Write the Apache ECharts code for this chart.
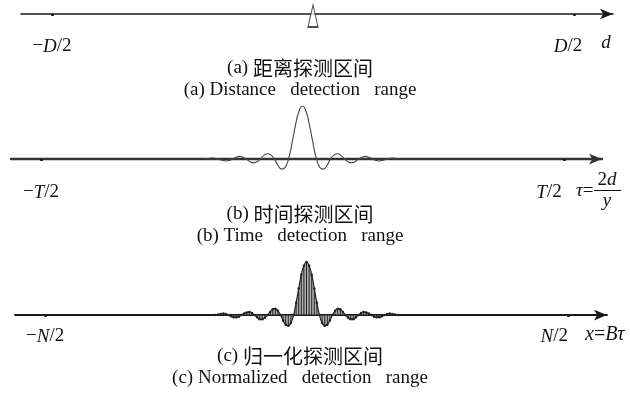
<!DOCTYPE html>
<html>
<head>
<meta charset="utf-8">
<script src="https://cdn.jsdelivr.net/npm/echarts@6/dist/echarts.min.js"></script>
<style>
  html, body { margin: 0; padding: 0; background: #fff; }
  #chart { width: 630px; height: 399px; }
</style>
</head>
<body>
<div id="chart"></div>
<script>
// (a) distance axis: ends of the detection window and the target position
const distanceTicks = [-1, 1];
const distanceTickLabels = ['−{i|D}/2', '{i|D}/2{g|}'];
const targetPosition = [0];

// (b) time axis: window ends (in main-lobe half widths) and the echo envelope
const timeTicks = [-18.68, 18.68];
const timeTickLabels = ['−{i|T}/2', '{i|T}/2{g|}'];
const timeOffsets = [
  -7, -6.75, -6.5, -6.25, -6, -5.75, -5.5, -5.25, -5, -4.75, -4.5, -4.25,
  -4, -3.75, -3.5, -3.25, -3, -2.75, -2.5, -2.25, -2, -1.75, -1.5, -1.25,
  -1, -0.75, -0.5, -0.25, 0, 0.25, 0.5, 0.75, 1, 1.25, 1.5, 1.75,
  2, 2.25, 2.5, 2.75, 3, 3.25, 3.5, 3.75, 4, 4.25, 4.5, 4.75,
  5, 5.25, 5.5, 5.75, 6, 6.25, 6.5, 6.75, 7
];
const timeEcho = [
  0, 0.01, 0.02, 0.015, 0, -0.02, -0.035, -0.025, 0, 0.035, 0.05, 0.035,
  0, -0.05, -0.07, -0.05, 0, 0.07, 0.10, 0.075, 0, -0.12, -0.19, -0.16,
  0, 0.30, 0.64, 0.90, 1.00, 0.90, 0.64, 0.30, 0, -0.16, -0.19, -0.12,
  0, 0.075, 0.10, 0.07, 0, -0.05, -0.07, -0.05, 0, 0.035, 0.05, 0.035,
  0, -0.025, -0.035, -0.02, 0, 0.015, 0.02, 0.01, 0
];

// (c) normalized axis: window ends and the sampled echo
const sampleTicks = [-20.1, 20.1];
const sampleTickLabels = ['−{i|N}/2', '{i|N}/2{g|}'];
const sampleOffsets = [
  -7, -6.8, -6.6, -6.4, -6.2, -6, -5.8, -5.6, -5.4, -5.2, -5, -4.8,
  -4.6, -4.4, -4.2, -4, -3.8, -3.6, -3.4, -3.2, -3, -2.8, -2.6, -2.4,
  -2.2, -2, -1.8, -1.6, -1.4, -1.2, -1, -0.8, -0.6, -0.4, -0.2, 0,
  0.2, 0.4, 0.6, 0.8, 1, 1.2, 1.4, 1.6, 1.8, 2, 2.2, 2.4,
  2.6, 2.8, 3, 3.2, 3.4, 3.6, 3.8, 4, 4.2, 4.4, 4.6, 4.8,
  5, 5.2, 5.4, 5.6, 5.8, 6, 6.2, 6.4, 6.6, 6.8, 7
];
const sampleEcho = [
  0, 0.01, 0.02, 0.03, 0.02, 0, -0.02, -0.04, -0.04, -0.03, 0, 0.03,
  0.05, 0.06, 0.04, 0, -0.04, -0.08, -0.08, -0.05, 0, 0.06, 0.11, 0.12,
  0.08, 0, -0.10, -0.18, -0.20, -0.15, 0, 0.23, 0.50, 0.76, 0.93, 1.00,
  0.93, 0.76, 0.50, 0.23, 0, -0.15, -0.20, -0.18, -0.10, 0, 0.08, 0.12,
  0.11, 0.06, 0, -0.05, -0.08, -0.08, -0.04, 0, 0.04, 0.06, 0.05, 0.03,
  0, -0.03, -0.04, -0.04, -0.02, 0, 0.02, 0.03, 0.02, 0.01, 0
];

const axisNames = ['d', 'x=Bτ'];
const captionsZh = ['距离探测区间', '时间探测区间', '归一化探测区间'];
const captionsEn = ['Distance   detection   range', 'Time   detection   range', 'Normalized   detection   range'];
const captionTags = ['(a)', '(b)', '(c)'];

const SERIF = '"Liberation Serif", "Times New Roman", serif';
const CJK = '"Noto Sans CJK SC", sans-serif';
const INK = '#111';

function pairs(xs, ys) {
  return xs.map((x, i) => [x, ys[i]]);
}

function xAxisFor(gridIndex, min, max, ticks, labels, gap, margin, lineWidth, lineColor) {
  return {
    type: 'value', gridIndex, min, max,
    axisLine: {
      onZero: true,
      symbol: ['none', 'arrow'],
      symbolSize: [8, 13],
      lineStyle: { color: lineColor, width: lineWidth }
    },
    axisTick: {
      customValues: ticks, length: 2, inside: false,
      lineStyle: { color: INK, width: 2.5 }
    },
    axisLabel: {
      customValues: ticks,
      margin,
      color: INK,
      fontFamily: SERIF,
      fontSize: 19,
      formatter: function (v) {
        let best = 0;
        ticks.forEach((t, i) => { if (Math.abs(t - v) < Math.abs(ticks[best] - v)) best = i; });
        return labels[best];
      },
      rich: {
        i: { fontFamily: SERIF, fontStyle: 'italic', fontSize: 19, color: INK },
        g: { width: gap }
      }
    },
    splitLine: { show: false }
  };
}

function yAxisFor(gridIndex, min, max) {
  return { type: 'value', gridIndex, min, max, show: false, splitLine: { show: false } };
}

function caption(tag, zh, en, y) {
  return [
    {
      type: 'text', x: 300, y: y,
      style: {
        text: '{en|' + tag + ' }{zh|' + zh + '}',
        align: 'center', verticalAlign: 'middle',
        rich: {
          en: { fontFamily: SERIF, fontSize: 19, fill: INK },
          zh: { fontFamily: CJK, fontSize: 20, fill: INK }
        }
      }
    },
    {
      type: 'text', x: 300, y: y + 22,
      style: {
        text: tag + ' ' + en,
        align: 'center', verticalAlign: 'middle',
        font: '19px ' + SERIF, fill: INK
      }
    }
  ];
}

const chart = echarts.init(document.getElementById('chart'), null, { renderer: 'canvas' });

chart.setOption({
  animation: false,
  backgroundColor: '#fff',
  grid: [
    { left: 21, top: 0, width: 592, height: 28 },
    { left: 11, top: 106, width: 591, height: 69 },
    { left: 15, top: 262, width: 592, height: 69 }
  ],
  xAxis: [
    xAxisFor(0, (21 - 313) / 261, (613 - 313) / 261, distanceTicks, distanceTickLabels, 12, 9, 1.6, '#1a1a1a'),
    xAxisFor(1, (11 - 302.5) / 14, (602 - 302.5) / 14, timeTicks, timeTickLabels, 30, 8, 2.4, '#333'),
    xAxisFor(2, (15 - 306.5) / 13, (607 - 306.5) / 13, sampleTicks, sampleTickLabels, 27, -4, 1.8, '#1a1a1a')
  ],
  yAxis: [
    yAxisFor(0, -1, 1),
    yAxisFor(1, -0.3, 1),
    yAxisFor(2, -0.3, 1)
  ],
  series: [
    {
      type: 'scatter', xAxisIndex: 0, yAxisIndex: 0,
      data: targetPosition.map(x => [x, 0]),
      symbol: 'triangle', symbolSize: [10, 22], symbolOffset: [0, 2],
      itemStyle: { color: '#fff', borderColor: '#222', borderWidth: 1.3 },
      z: 5
    },
    {
      type: 'line', xAxisIndex: 1, yAxisIndex: 1,
      data: pairs(timeOffsets, timeEcho),
      smooth: 0.5, showSymbol: false,
      lineStyle: { color: '#444', width: 1.1 },
      z: 3
    },
    {
      type: 'line', xAxisIndex: 2, yAxisIndex: 2,
      data: pairs(sampleOffsets, sampleEcho),
      smooth: 0.5, symbol: 'circle', symbolSize: 2.5, showSymbol: true,
      itemStyle: { color: '#222' },
      lineStyle: { color: '#222', width: 1.2 },
      areaStyle: { color: '#8c8c8c', origin: 0 },
      z: 3
    },
    {
      type: 'bar', xAxisIndex: 2, yAxisIndex: 2,
      data: pairs(sampleOffsets, sampleEcho),
      barWidth: 1,
      itemStyle: { color: '#222' },
      z: 4
    }
  ],
  graphic: [
    { type: 'text', x: 606, y: 43, style: { text: axisNames[0], align: 'center', verticalAlign: 'middle', font: 'italic 19px ' + SERIF, fill: INK } },
    { type: 'text', x: 576, y: 191, style: { text: '{i|τ}=', align: 'left', verticalAlign: 'middle', font: '19px ' + SERIF, fill: INK,
        rich: { i: { fontFamily: SERIF, fontStyle: 'italic', fontSize: 19, fill: INK } } } },
    { type: 'text', x: 607, y: 180, style: { text: '2{i|d}', align: 'center', verticalAlign: 'middle', font: '19px ' + SERIF, fill: INK,
        rich: { i: { fontFamily: SERIF, fontStyle: 'italic', fontSize: 19, fill: INK } } } },
    { type: 'line', shape: { x1: 594, y1: 190.5, x2: 621, y2: 190.5 }, style: { stroke: INK, lineWidth: 1 } },
    { type: 'text', x: 607, y: 201, style: { text: 'y', align: 'center', verticalAlign: 'middle', font: 'italic 19px ' + SERIF, fill: INK } },
    { type: 'text', x: 585, y: 335, style: { text: '{i|x}={i|Bτ}', align: 'left', verticalAlign: 'middle', font: '20px ' + SERIF, fill: INK,
        rich: { i: { fontFamily: SERIF, fontStyle: 'italic', fontSize: 20, fill: INK } } } },
    ...caption(captionTags[0], captionsZh[0], captionsEn[0], 68),
    ...caption(captionTags[1], captionsZh[1], captionsEn[1], 214),
    ...caption(captionTags[2], captionsZh[2], captionsEn[2], 356)
  ]
});
</script>
</body>
</html>
